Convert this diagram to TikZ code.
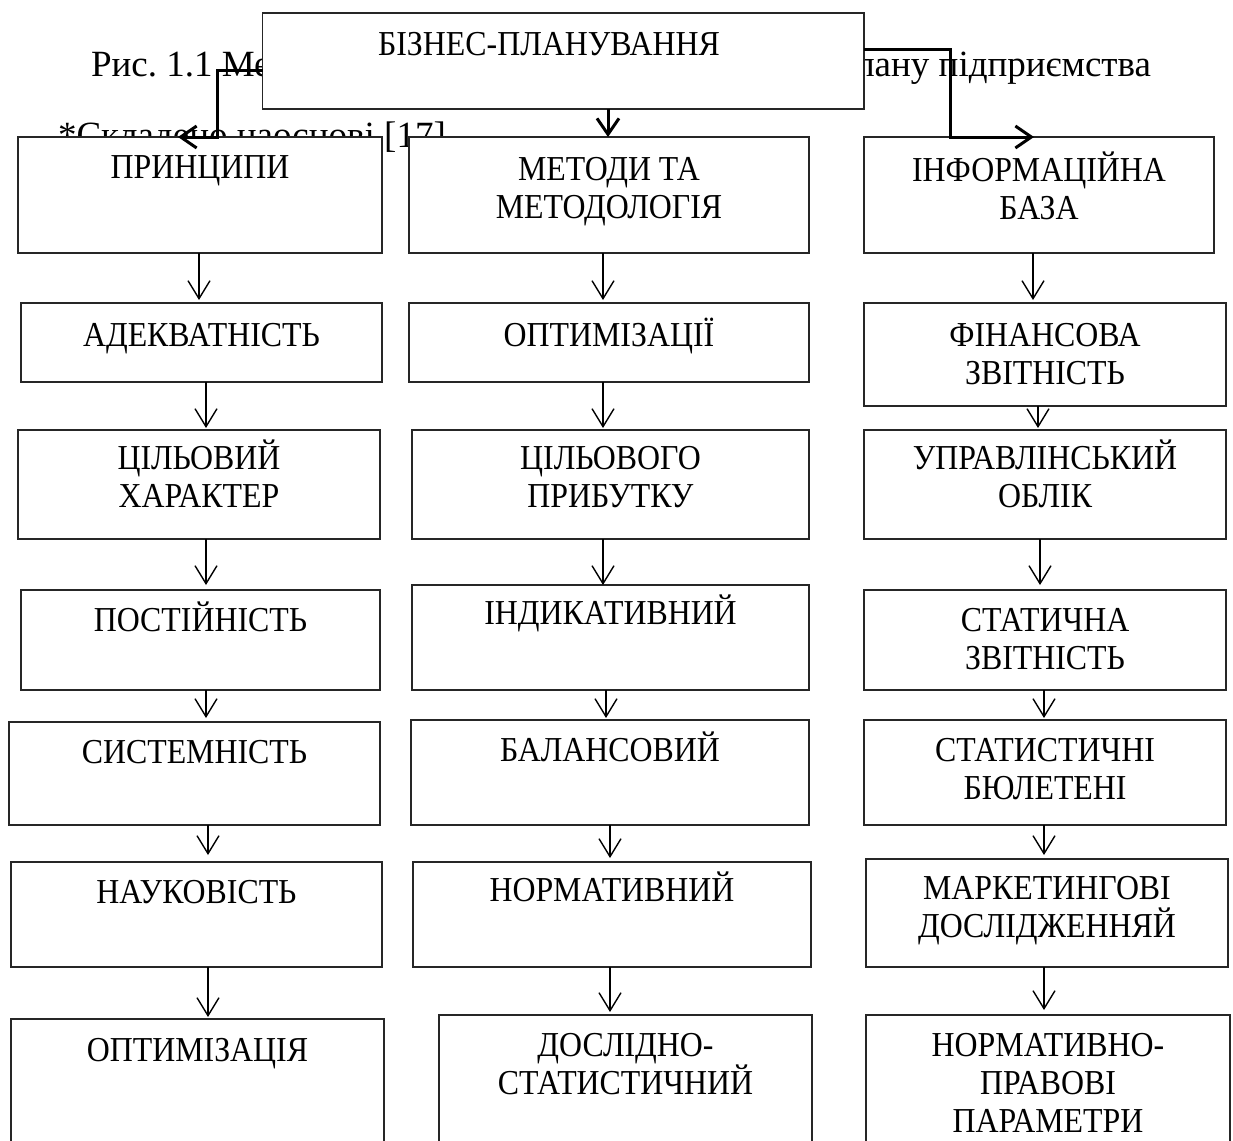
\documentclass[tikz,border=0pt]{standalone}
\usepackage{fontspec}
\setmainfont{Liberation Serif}
\newfontfamily\boxfont{Liberation Serif}[FakeStretch=0.91]
\frenchspacing
\usetikzlibrary{arrows.meta}
\tikzset{
  boxst/.style={draw=black!85, line width=1.5pt, fill=white, inner sep=0pt, outer sep=0pt, anchor=north west},
  txtst/.style={inner sep=0pt, outer sep=0pt, align=center, anchor=north, font=\boxfont\fontsize{35}{38}\selectfont},
  capst/.style={inner sep=0pt, outer sep=0pt, font=\fontsize{37}{40}\selectfont},
  tarr/.style={line width=1.4pt, -{Straight Barb[length=18pt,width=22pt]}},
  karr/.style={line width=3pt, -{Straight Barb[length=16pt,width=22pt]}},
}
% name, x1, y1, x2, y2, text centre x, first line centre y, text
\newcommand\bx[8]{%
  \node[boxst, minimum width={#4-#2}, minimum height={#5-#3}] (#1) at (#2,#3) {};
  \node[txtst] (#1t) at (#6,{#7-20.5}) {\rule{0pt}{32pt}#8};}
% from, to, x, shorten
\newcommand\ar[4]{\draw[tarr, shorten >=#4pt] (#1.south -| #3,0) -- (#2.north -| #3,0);}
\begin{document}
\begin{tikzpicture}[x=1pt,y=-1pt]
\useasboundingbox (0,0) rectangle (1233,1140);
\fill[white] (0,0) rectangle (1233,1140);
\clip (0,0) rectangle (1233,1140);

% captions lying behind the boxes
\node[capst, anchor=base west] (cap1) at (91,77) {Рис. 1.1 Ме};
\node[capst, anchor=base east] (cap2) at (1151,77) {плану підприємства};
\node[capst, anchor=base west] (src) at (58,147) {*Складено наоснові [17]};

% top box
\bx{t}{262.5}{13}{864}{109}{549}{44}{БІЗНЕС-ПЛАНУВАННЯ}

% column 1
\bx{a1}{18}{137}{382}{253}{200}{167}{ПРИНЦИПИ}
\bx{a2}{21}{303}{382}{382}{201.5}{335}{АДЕКВАТНІСТЬ}
\bx{a3}{18}{430}{380}{539}{199}{458}{ЦІЛЬОВИЙ\\ХАРАКТЕР}
\bx{a4}{21}{590}{380}{690}{200.5}{620}{ПОСТІЙНІСТЬ}
\bx{a5}{9}{722}{380}{825}{194.5}{752}{СИСТЕМНІСТЬ}
\bx{a6}{11}{862}{382}{967}{196.5}{892}{НАУКОВІСТЬ}
\bx{a7}{11}{1019}{384}{1180}{197.5}{1050}{ОПТИМІЗАЦІЯ}

% column 2
\bx{b1}{409}{137}{809}{253}{609}{169}{МЕТОДИ ТА\\МЕТОДОЛОГІЯ}
\bx{b2}{409}{303}{809}{382}{609}{335}{ОПТИМІЗАЦІЇ}
\bx{b3}{412}{430}{809}{539}{610.5}{458}{ЦІЛЬОВОГО\\ПРИБУТКУ}
\bx{b4}{412}{585}{809}{690}{610.5}{613}{ІНДИКАТИВНИЙ}
\bx{b5}{411}{720}{809}{825}{610}{750}{БАЛАНСОВИЙ}
\bx{b6}{413}{862}{811}{967}{612}{890}{НОРМАТИВНИЙ}
\bx{b7}{439}{1015}{812}{1180}{625.5}{1045}{ДОСЛІДНО-\\СТАТИСТИЧНИЙ}

% column 3
\bx{c1}{864}{137}{1214}{253}{1039}{170}{ІНФОРМАЦІЙНА\\БАЗА}
\bx{c2}{864}{303}{1226}{406}{1045}{335}{ФІНАНСОВА\\ЗВІТНІСТЬ}
\bx{c3}{864}{430}{1226}{539}{1045}{458}{УПРАВЛІНСЬКИЙ\\ОБЛІК}
\bx{c4}{864}{590}{1226}{690}{1045}{620}{СТАТИЧНА\\ЗВІТНІСТЬ}
\bx{c5}{864}{720}{1226}{825}{1045}{750}{СТАТИСТИЧНІ\\БЮЛЕТЕНІ}
\bx{c6}{866}{859}{1228}{967}{1047}{888}{МАРКЕТИНГОВІ\\ДОСЛІДЖЕННЯЙ}
\bx{c7}{866}{1015}{1230}{1180}{1048}{1045}{НОРМАТИВНО-\\ПРАВОВІ\\ПАРАМЕТРИ}

% thick arrows from the top box
\coordinate (le) at (178,137);
\coordinate (re) at (1034,137);
\draw[karr] (t.west |- 0,70) -| (217.5,137) -- (le);
\draw[karr] (t.east |- 0,50) -| (950,137) -- (re);
\draw[karr] (t.south -| 608,0) -- (b1.north -| 608,0);

% column 1 arrows
\ar{a1}{a2}{199}{3}
\ar{a2}{a3}{206}{2}
\ar{a3}{a4}{206}{5}
\ar{a4}{a5}{206}{4}
\ar{a5}{a6}{208}{7}
\ar{a6}{a7}{208}{2}

% column 2 arrows
\ar{b1}{b2}{603}{3}
\ar{b2}{b3}{603}{2}
\ar{b3}{b4}{603}{0}
\ar{b4}{b5}{606}{2}
\ar{b5}{b6}{610}{4}
\ar{b6}{b7}{610}{3}

% column 3 arrows
\ar{c1}{c2}{1033}{3}
\ar{c2}{c3}{1038}{2}
\ar{c3}{c4}{1040}{5}
\ar{c4}{c5}{1044}{2}
\ar{c5}{c6}{1044}{4}
\ar{c6}{c7}{1044}{5}
\end{tikzpicture}
\end{document}
